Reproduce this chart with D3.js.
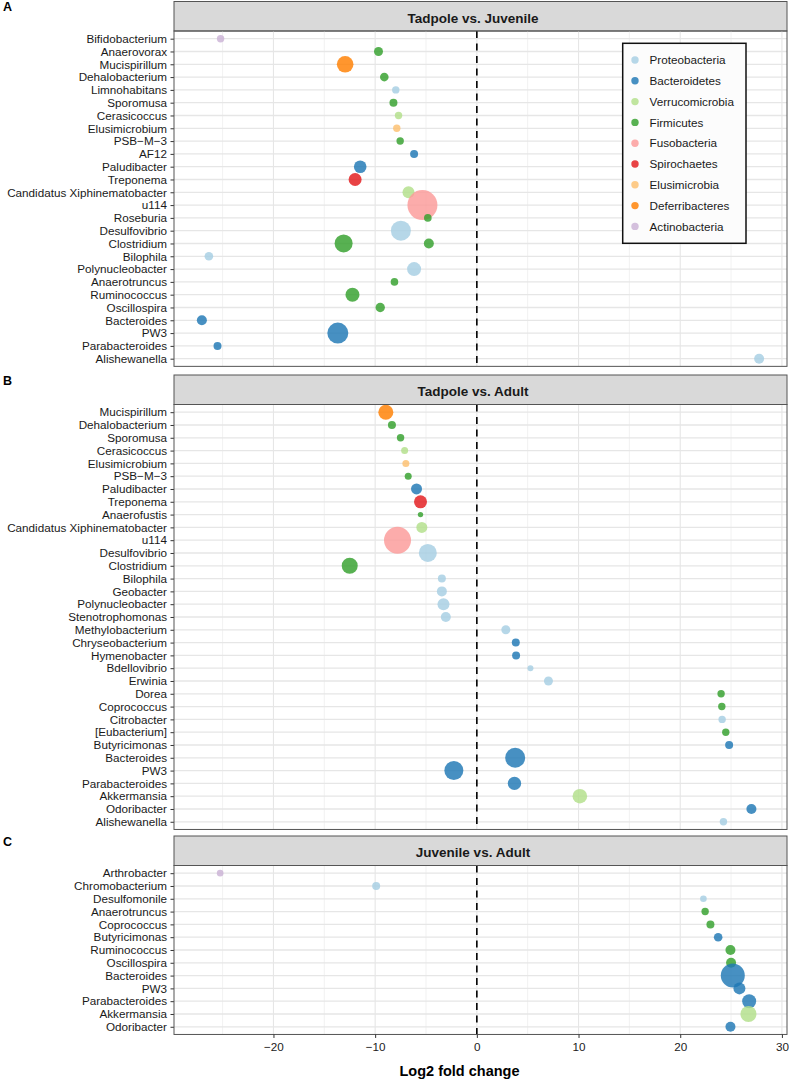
<!DOCTYPE html>
<html>
<head>
<meta charset="utf-8">
<script src="https://cdn.jsdelivr.net/npm/d3@7"></script>
<style>
  body { margin: 0; background: #fff; }
  svg { display: block; font-family: "Liberation Sans", Arial, sans-serif; }
</style>
</head>
<body>
<div id="chart"></div>
<script>
// phyla, in legend order, with their colours
const phyla = ["Proteobacteria", "Bacteroidetes", "Verrucomicrobia", "Firmicutes", "Fusobacteria",
               "Spirochaetes", "Elusimicrobia", "Deferribacteres", "Actinobacteria"];
const phylumColors = ["#a6cee3", "#1f78b4", "#b2df8a", "#33a02c", "#fb9a99",
                      "#e31a1c", "#fdbf6f", "#ff7f00", "#cab2d6"];

const comparisons = ["Tadpole vs. Juvenile", "Tadpole vs. Adult", "Juvenile vs. Adult"];
const panelTags = ["A", "B", "C"];

// genus order (top to bottom) for each comparison
const generaA = ["Bifidobacterium", "Anaerovorax", "Mucispirillum", "Dehalobacterium", "Limnohabitans",
  "Sporomusa", "Cerasicoccus", "Elusimicrobium", "PSB\u2212M\u22123", "AF12", "Paludibacter", "Treponema",
  "Candidatus Xiphinematobacter", "u114", "Roseburia", "Desulfovibrio", "Clostridium", "Bilophila",
  "Polynucleobacter", "Anaerotruncus", "Ruminococcus", "Oscillospira", "Bacteroides", "PW3",
  "Parabacteroides", "Alishewanella"];
const generaB = ["Mucispirillum", "Dehalobacterium", "Sporomusa", "Cerasicoccus", "Elusimicrobium",
  "PSB\u2212M\u22123", "Paludibacter", "Treponema", "Anaerofustis", "Candidatus Xiphinematobacter", "u114",
  "Desulfovibrio", "Clostridium", "Bilophila", "Geobacter", "Polynucleobacter", "Stenotrophomonas",
  "Methylobacterium", "Chryseobacterium", "Hymenobacter", "Bdellovibrio", "Erwinia", "Dorea",
  "Coprococcus", "Citrobacter", "[Eubacterium]", "Butyricimonas", "Bacteroides", "PW3",
  "Parabacteroides", "Akkermansia", "Odoribacter", "Alishewanella"];
const generaC = ["Arthrobacter", "Chromobacterium", "Desulfomonile", "Anaerotruncus", "Coprococcus",
  "Butyricimonas", "Ruminococcus", "Oscillospira", "Bacteroides", "PW3", "Parabacteroides",
  "Akkermansia", "Odoribacter"];

// [genus, log2 fold change, phylum, mean abundance]
const otusA = [
  ["Bifidobacterium", -25.2, "Actinobacteria", 55],
  ["Anaerovorax", -9.67, "Firmicutes", 81],
  ["Mucispirillum", -12.95, "Deferribacteres", 276],
  ["Dehalobacterium", -9.1, "Firmicutes", 74],
  ["Limnohabitans", -7.97, "Proteobacteria", 55],
  ["Sporomusa", -8.2, "Firmicutes", 64],
  ["Cerasicoccus", -7.7, "Verrucomicrobia", 55],
  ["Elusimicrobium", -7.87, "Elusimicrobia", 55],
  ["PSB\u2212M\u22123", -7.54, "Firmicutes", 55],
  ["AF12", -6.17, "Bacteroidetes", 64],
  ["Paludibacter", -11.47, "Bacteroidetes", 159],
  ["Treponema", -11.97, "Spirochaetes", 169],
  ["Candidatus Xiphinematobacter", -6.72, "Verrucomicrobia", 144],
  ["u114", -5.35, "Fusobacteria", 900],
  ["Roseburia", -4.82, "Firmicutes", 58],
  ["Desulfovibrio", -7.47, "Proteobacteria", 400],
  ["Clostridium", -13.1, "Firmicutes", 324],
  ["Clostridium", -4.72, "Firmicutes", 100],
  ["Bilophila", -26.35, "Proteobacteria", 74],
  ["Polynucleobacter", -6.17, "Proteobacteria", 196],
  ["Anaerotruncus", -8.1, "Firmicutes", 58],
  ["Ruminococcus", -12.23, "Firmicutes", 196],
  ["Oscillospira", -9.5, "Firmicutes", 88],
  ["Bacteroides", -27.04, "Bacteroidetes", 100],
  ["PW3", -13.67, "Bacteroidetes", 441],
  ["Parabacteroides", -25.5, "Bacteroidetes", 64],
  ["Alishewanella", 27.76, "Proteobacteria", 100]
];
const otusB = [
  ["Mucispirillum", -8.95, "Deferribacteres", 225],
  ["Dehalobacterium", -8.35, "Firmicutes", 64],
  ["Sporomusa", -7.5, "Firmicutes", 55],
  ["Cerasicoccus", -7.1, "Verrucomicrobia", 49],
  ["Elusimicrobium", -6.98, "Elusimicrobia", 49],
  ["PSB\u2212M\u22123", -6.75, "Firmicutes", 49],
  ["Paludibacter", -5.93, "Bacteroidetes", 121],
  ["Treponema", -5.54, "Spirochaetes", 169],
  ["Anaerofustis", -5.54, "Firmicutes", 29],
  ["Candidatus Xiphinematobacter", -5.41, "Verrucomicrobia", 121],
  ["u114", -7.8, "Fusobacteria", 729],
  ["Desulfovibrio", -4.82, "Proteobacteria", 324],
  ["Clostridium", -12.5, "Firmicutes", 256],
  ["Bilophila", -3.44, "Proteobacteria", 64],
  ["Geobacter", -3.44, "Proteobacteria", 100],
  ["Polynucleobacter", -3.28, "Proteobacteria", 144],
  ["Stenotrophomonas", -3.05, "Proteobacteria", 100],
  ["Methylobacterium", 2.85, "Proteobacteria", 81],
  ["Chryseobacterium", 3.83, "Bacteroidetes", 64],
  ["Hymenobacter", 3.86, "Bacteroidetes", 64],
  ["Bdellovibrio", 5.27, "Proteobacteria", 36],
  ["Erwinia", 7.04, "Proteobacteria", 81],
  ["Dorea", 24.02, "Firmicutes", 55],
  ["Coprococcus", 24.09, "Firmicutes", 55],
  ["Citrobacter", 24.12, "Proteobacteria", 55],
  ["[Eubacterium]", 24.48, "Firmicutes", 55],
  ["Butyricimonas", 24.81, "Bacteroidetes", 64],
  ["Bacteroides", 3.77, "Bacteroidetes", 400],
  ["PW3", -2.26, "Bacteroidetes", 361],
  ["Parabacteroides", 3.7, "Bacteroidetes", 180],
  ["Akkermansia", 10.13, "Verrucomicrobia", 213],
  ["Odoribacter", 27.0, "Bacteroidetes", 100],
  ["Alishewanella", 24.25, "Proteobacteria", 55]
];
const otusC = [
  ["Arthrobacter", -25.24, "Actinobacteria", 44],
  ["Chromobacterium", -9.9, "Proteobacteria", 64],
  ["Desulfomonile", 22.28, "Proteobacteria", 44],
  ["Anaerotruncus", 22.45, "Firmicutes", 55],
  ["Coprococcus", 22.97, "Firmicutes", 64],
  ["Butyricimonas", 23.73, "Bacteroidetes", 74],
  ["Ruminococcus", 24.94, "Firmicutes", 100],
  ["Oscillospira", 25.0, "Firmicutes", 100],
  ["Bacteroides", 25.17, "Bacteroidetes", 576],
  ["PW3", 25.82, "Bacteroidetes", 144],
  ["Parabacteroides", 26.78, "Bacteroidetes", 196],
  ["Akkermansia", 26.71, "Verrucomicrobia", 256],
  ["Odoribacter", 24.94, "Bacteroidetes", 100]
];

const xTicks = [-20, -10, 0, 10, 20, 30];
const xMinorTicks = [-25, -15, -5, 5, 15, 25];

// LAYOUT
const W = 789, H = 1081;
const left = 174, right = 787;
const rowStep = 12.8, stripH = 29.5;
const stripTops = [1.5, 375, 836];

const panels = [
  {genera: generaA, otus: otusA},
  {genera: generaB, otus: otusB},
  {genera: generaC, otus: otusC}
];

const allLfc = panels.flatMap(p => p.otus.map(o => o[1]));
const ext = d3.extent(allLfc);
const pad = (ext[1] - ext[0]) * 0.05;
const x = d3.scaleLinear().domain([ext[0] - pad, ext[1] + pad]).range([left, right]);
const r = d3.scaleSqrt().domain([0, 900]).range([0, 15]);
const color = d3.scaleOrdinal().domain(phyla).range(phylumColors);

const svg = d3.select("#chart").append("svg")
  .attr("width", W).attr("height", H);

panels.forEach((p, i) => {
  const sTop = stripTops[i];
  const top = sTop + stripH;
  const bottom = top + (p.genera.length - 1 + 1.2) * rowStep;
  const y = d3.scalePoint().domain(p.genera).range([top, bottom]).padding(0.6);
  const g = svg.append("g");

  // strip
  g.append("rect")
    .attr("x", left).attr("y", sTop).attr("width", right - left).attr("height", stripH)
    .attr("fill", "#d9d9d9").attr("stroke", "#555").attr("stroke-width", 1);
  g.append("text")
    .attr("x", 473).attr("y", sTop + 21)
    .attr("text-anchor", "middle")
    .attr("font-size", 13.5).attr("font-weight", "bold").attr("fill", "#1a1a1a")
    .text(comparisons[i]);
  svg.append("text")
    .attr("x", 3).attr("y", sTop + 9.8)
    .attr("font-size", 12.5).attr("font-weight", "bold")
    .text(panelTags[i]);

  // grid
  g.selectAll(".minor").data(xMinorTicks).join("line")
    .attr("x1", d => x(d)).attr("x2", d => x(d)).attr("y1", top).attr("y2", bottom)
    .attr("stroke", "#eeeeee").attr("stroke-width", 0.8);
  g.selectAll(".major").data(xTicks).join("line")
    .attr("x1", d => x(d)).attr("x2", d => x(d)).attr("y1", top).attr("y2", bottom)
    .attr("stroke", "#e6e6e6").attr("stroke-width", 1.1);
  g.selectAll(".hgrid").data(p.genera).join("line")
    .attr("x1", left).attr("x2", right).attr("y1", d => y(d)).attr("y2", d => y(d))
    .attr("stroke", "#e6e6e6").attr("stroke-width", 1.3);

  // zero line
  g.append("line")
    .attr("x1", x(0)).attr("x2", x(0)).attr("y1", top).attr("y2", bottom)
    .attr("stroke", "#000").attr("stroke-width", 1.6).attr("stroke-dasharray", "7,5.5");

  // points
  g.selectAll("circle").data(p.otus).join("circle")
    .attr("cx", d => x(d[1])).attr("cy", d => y(d[0]))
    .attr("r", d => r(d[3]))
    .attr("fill", d => color(d[2])).attr("fill-opacity", 0.82);

  // y axis
  const yAxis = g.append("g")
    .attr("transform", `translate(${left},0)`)
    .call(d3.axisLeft(y).tickSize(3.5).tickPadding(3.5));
  yAxis.select(".domain").remove();
  yAxis.selectAll(".tick line").attr("stroke", "#333").attr("stroke-width", 1);
  yAxis.selectAll(".tick text")
    .attr("font-size", 11.7).attr("fill", "#1a1a1a")
    .attr("font-family", "\"Liberation Sans\", Arial, sans-serif");

  // panel border
  g.append("rect")
    .attr("x", left).attr("y", top).attr("width", right - left).attr("height", bottom - top)
    .attr("fill", "none").attr("stroke", "#555").attr("stroke-width", 1);

  if (i === 2) {
    const xAxis = g.append("g")
      .attr("transform", `translate(0,${bottom})`)
      .call(d3.axisBottom(x).tickValues(xTicks).tickSize(3.5).tickPadding(5)
        .tickFormat(d => d < 0 ? "\u2212" + Math.abs(d) : d));
    xAxis.select(".domain").remove();
    xAxis.selectAll(".tick line").attr("stroke", "#333");
    xAxis.selectAll(".tick text")
      .attr("font-size", 11.7).attr("fill", "#222")
      .attr("font-family", "\"Liberation Sans\", Arial, sans-serif");
    svg.append("text")
      .attr("x", 459.5).attr("y", 1075.5)
      .attr("text-anchor", "middle")
      .attr("font-size", 14.5).attr("font-weight", "bold")
      .text("Log2 fold change");
  }
});

// legend
const lg = svg.append("g").attr("transform", "translate(622.7,43.3)");
lg.append("rect")
  .attr("width", 123.3).attr("height", 200)
  .attr("fill", "#fcfcfc").attr("stroke", "#111").attr("stroke-width", 1.5);
const items = lg.selectAll(".item").data(phyla).join("g")
  .attr("transform", (d, i) => `translate(0,${16.7 + i * 20.8})`);
items.append("circle")
  .attr("cx", 12.3).attr("r", 3.7)
  .attr("fill", d => color(d)).attr("fill-opacity", 0.82);
items.append("text")
  .attr("x", 26.8).attr("dy", "0.35em")
  .attr("font-size", 11.7).attr("fill", "#1a1a1a")
  .text(d => d);
</script>
</body>
</html>
